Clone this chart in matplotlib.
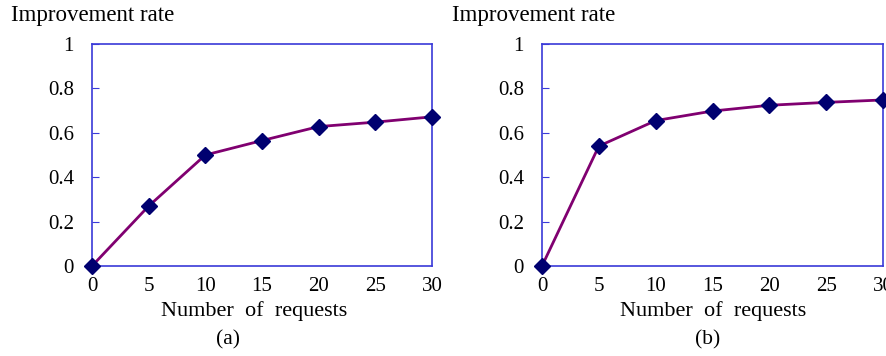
import matplotlib.pyplot as plt

plt.rcParams['font.family'] = ['Liberation Serif', 'DejaVu Serif']

requests = [0, 5, 10, 15, 20, 25, 30]
rate_a = [0.0, 0.27, 0.50, 0.565, 0.628, 0.648, 0.672]
rate_b = [0.0, 0.54, 0.655, 0.698, 0.724, 0.737, 0.748]
y_ticks = [0, 0.2, 0.4, 0.6, 0.8, 1]
y_tick_labels = ['0', '0.2', '0.4', '0.6', '0.8', '1']
panel_labels = ['(a)', '(b)']

fig = plt.figure(figsize=(8.86, 3.56), dpi=100)
W, H = 886, 356

# axes boxes in pixel coords: left, top, right, bottom
boxes = [(92, 44, 432, 266), (542, 44, 883, 266)]
# pixel x of the axis title, x label and caption for each panel
title_x = [11, 452]
xlabel_x = [254, 713]
caption_x = [228, 708]

for i, ((l, t, r, b), rates) in enumerate(zip(boxes, [rate_a, rate_b])):
    ax = fig.add_axes([l / W, 1 - b / H, (r - l) / W, (b - t) / H])
    ax.plot(requests, rates, color='#800070', linewidth=2, marker='D',
            markersize=8.5, markerfacecolor='#000070', markeredgecolor='#000070',
            clip_on=False, zorder=3)
    ax.set_xlim(0, 30)
    ax.set_ylim(0, 1)
    ax.set_xticks(requests)
    ax.set_yticks(y_ticks)
    ax.set_yticklabels(y_tick_labels)
    for s in ax.spines.values():
        s.set_color('#3a3ad8')
        s.set_linewidth(1.2)
    ax.tick_params(axis='y', direction='in', length=5, color='#3a3ad8',
                   labelsize=15, pad=13)
    ax.tick_params(axis='x', length=0, labelsize=15, pad=8)
    fig.text(xlabel_x[i] / W, 1 - 311 / H, 'Number  of  requests',
             ha='center', va='center', fontsize=16)
    fig.text(caption_x[i] / W, 1 - 340 / H, panel_labels[i],
             ha='center', va='center', fontsize=15.5)
    fig.text(title_x[i] / W, 1 - 16 / H, 'Improvement rate', ha='left',
             va='center', fontsize=16.5)

fig.savefig('out.png', dpi=100)
